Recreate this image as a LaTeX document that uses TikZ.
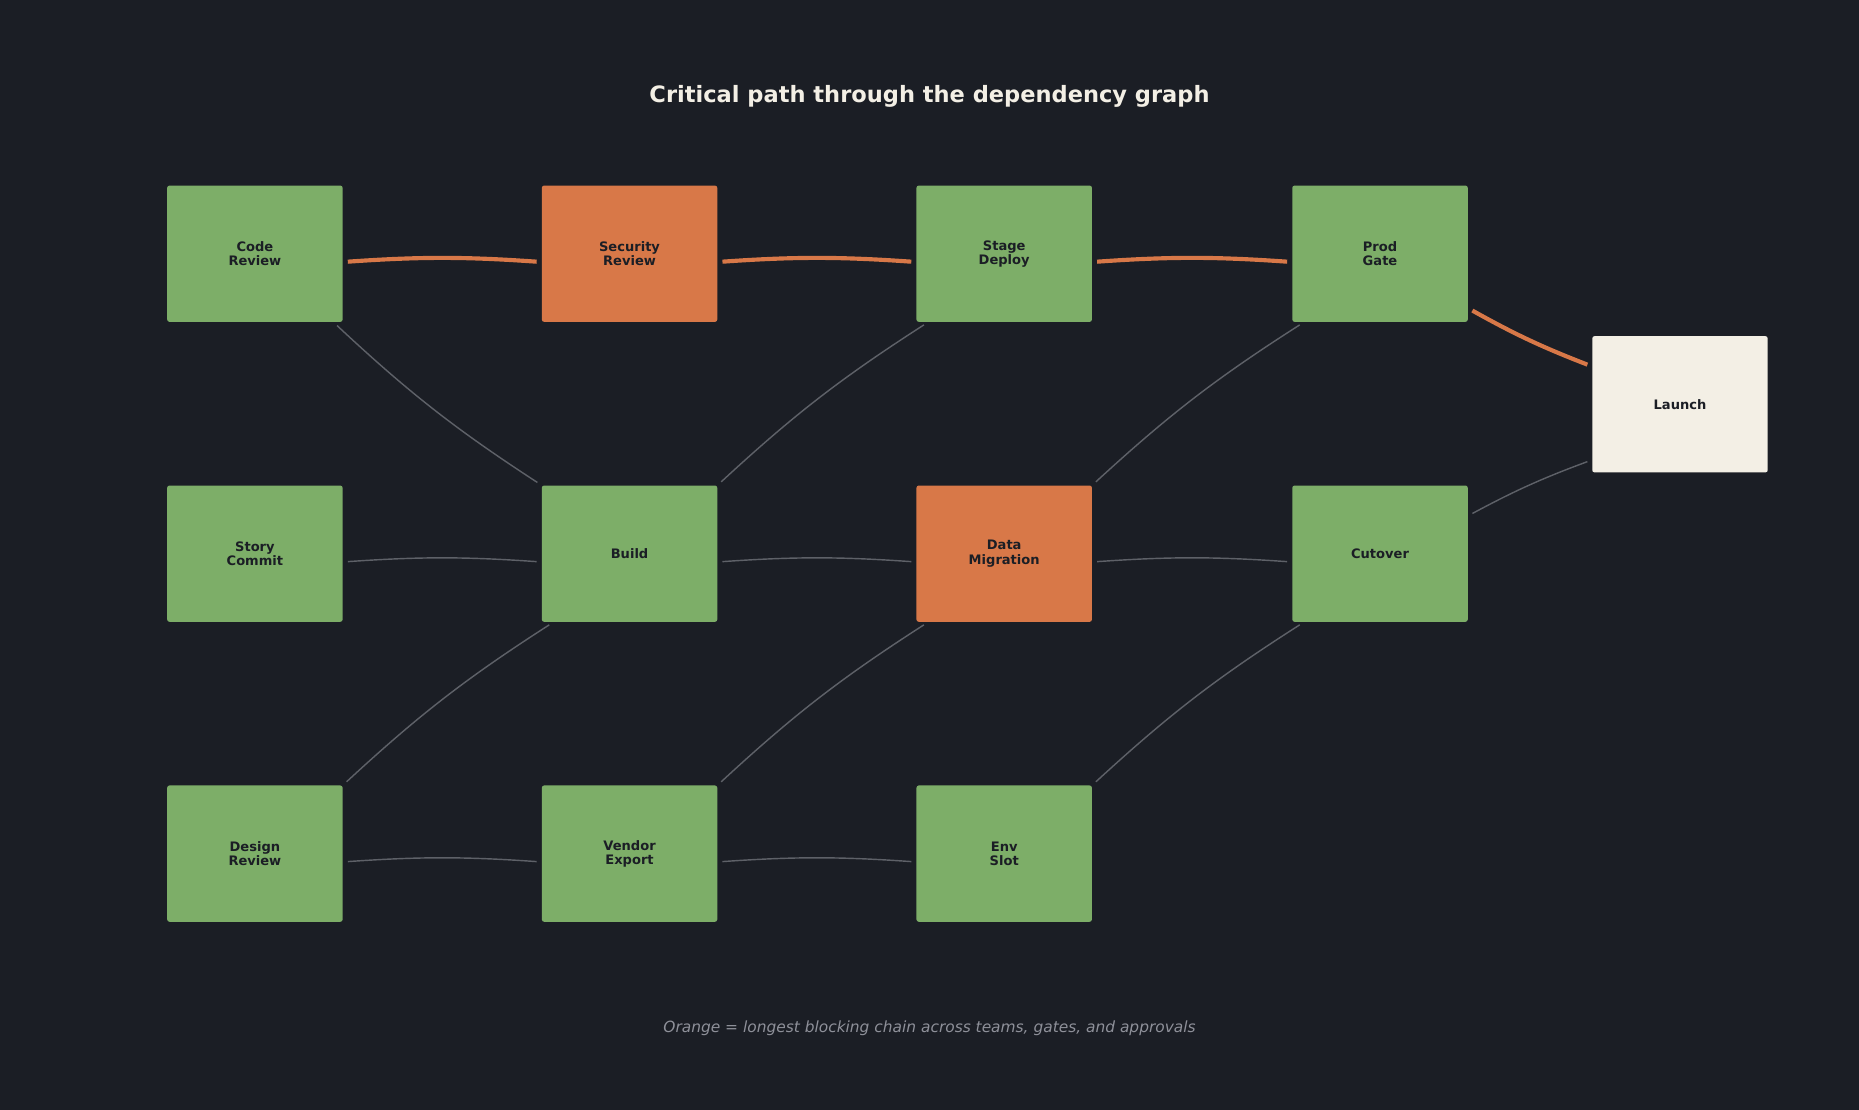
\documentclass[tikz,border=0pt]{standalone}
\usepackage{fontspec}
\setmainfont{DejaVu Sans}
\definecolor{bgdark}{HTML}{1B1E25}
\definecolor{taskgreen}{HTML}{7DAE68}
\definecolor{critorange}{HTML}{D87848}
\definecolor{launchcream}{HTML}{F3EFE5}
\definecolor{edgegray}{HTML}{5E6168}
\definecolor{notegray}{HTML}{8E9099}
\tikzset{every picture/.style={line width=0.75pt}}
\tikzset{
  task/.style={draw=none, rounded corners=2pt, minimum width=148pt, minimum height=115pt,
    align=center, font=\fontsize{11}{12}\selectfont\bfseries, text=bgdark, fill=taskgreen},
  crit/.style={task, fill=critorange},
  dep/.style={draw=edgegray, line width=1.2pt, shorten >=4pt, shorten <=4pt},
  critdep/.style={draw=critorange, line width=3.5pt, shorten >=4pt, shorten <=4pt}
}
\begin{document}
\begin{tikzpicture}[x=1pt,y=1pt,yscale=-1,xscale=1]
        \fill[bgdark] (0,0) rectangle (1568,936);
        \useasboundingbox (0,0) rectangle (1568,936);

        % Title
        \node (title) at (784,81) {\fontsize{19}{22}\selectfont\bfseries\color{launchcream}Critical path through the dependency graph};

        % Task nodes
        \node[task] (code) at (215,214) {Code\\Review};
        \node[crit] (security) at (531,214) {Security\\Review};
        \node[task] (stage) at (847,214) {Stage\\Deploy};
        \node[task] (prod) at (1164,214) {Prod\\Gate};
        \node[task] (story) at (215,467) {Story\\Commit};
        \node[task] (build) at (531,467) {Build};
        \node[crit] (data) at (847,467) {Data\\Migration};
        \node[task] (cutover) at (1164,467) {Cutover};
        \node[task] (design) at (215,720) {Design\\Review};
        \node[task] (vendor) at (531,720) {Vendor\\Export};
        \node[task] (env) at (847,720) {Env\\Slot};
        \node[task, fill=launchcream] (launch) at (1417,341) {Launch};

        % Critical chain
        \draw[critdep] ([yshift=7]code.east) to[bend right=4] ([yshift=7]security.west);
        \draw[critdep] ([yshift=7]security.east) to[bend right=4] ([yshift=7]stage.west);
        \draw[critdep] ([yshift=7]stage.east) to[bend right=4] ([yshift=7]prod.west);
        \draw[critdep] ([yshift=46]prod.east) to[bend left=4] ([yshift=-32]launch.west);

        % Other dependencies
        \draw[dep] ([yshift=7]story.east) to[bend right=4] ([yshift=7]build.west);
        \draw[dep] ([yshift=7]build.east) to[bend right=4] ([yshift=7]data.west);
        \draw[dep] ([yshift=7]data.east) to[bend right=4] ([yshift=7]cutover.west);
        \draw[dep] ([yshift=7]design.east) to[bend right=4] ([yshift=7]vendor.west);
        \draw[dep] ([yshift=7]vendor.east) to[bend right=4] ([yshift=7]env.west);
        \draw[dep] ([xshift=-8]code.south east) to[bend left=5] (build.north west);
        \draw[dep] (build.north east) to[bend right=5] ([xshift=10]stage.south west);
        \draw[dep] (design.north east) to[bend right=5] ([xshift=10]build.south west);
        \draw[dep] (vendor.north east) to[bend right=5] ([xshift=10]data.south west);
        \draw[dep] (data.north east) to[bend right=5] ([xshift=10]prod.south west);
        \draw[dep] (env.north east) to[bend right=5] ([xshift=10]cutover.south west);
        \draw[dep] ([yshift=-32]cutover.east) to[bend right=4] ([yshift=47]launch.west);

        % Note
        \node (note) at (784,867) {\fontsize{13}{15}\selectfont\itshape\color{notegray}Orange = longest blocking chain across teams, gates, and approvals};
\end{tikzpicture}
\end{document}
